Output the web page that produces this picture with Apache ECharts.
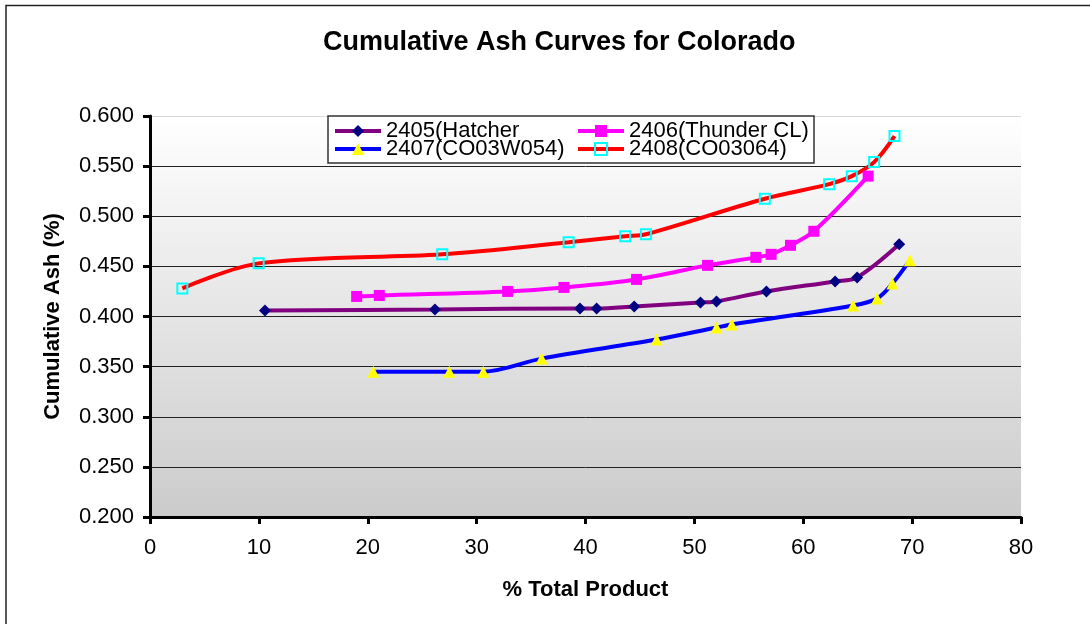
<!DOCTYPE html>
<html>
<head>
<meta charset="utf-8">
<script src="https://cdn.jsdelivr.net/npm/echarts@6/dist/echarts.min.js"></script>
<style>
  html, body { margin: 0; padding: 0; background: #fff; }
  #chart { width: 1090px; height: 624px; }
</style>
</head>
<body>
<div id="chart"></div>
<script>
// ---- Data ----
const seriesNames = ['2405(Hatcher', '2406(Thunder CL)', '2407(CO03W054)', '2408(CO03064)'];

const hatcherX = [10.56, 26.17, 39.49, 41.02, 44.47, 50.56, 52.03, 56.62, 62.93, 64.95, 68.81];
const hatcherY = [0.406, 0.407, 0.408, 0.408, 0.410, 0.414, 0.415, 0.425, 0.435, 0.439, 0.472];

const thunderX = [18.98, 21.06, 32.85, 38.02, 44.69, 51.21, 55.65, 57.05, 58.83, 60.97, 65.96];
const thunderY = [0.420, 0.421, 0.425, 0.429, 0.437, 0.451, 0.459, 0.462, 0.471, 0.485, 0.540];

const co03w054X = [20.51, 27.49, 30.61, 35.97, 46.53, 52.03, 53.44, 64.58, 66.78, 68.19, 69.79];
const co03w054Y = [0.345, 0.345, 0.345, 0.358, 0.377, 0.389, 0.392, 0.411, 0.418, 0.433, 0.456];

const co03064X = [2.97, 9.98, 26.84, 38.45, 43.65, 45.55, 56.47, 62.38, 64.46, 66.51, 68.38];
const co03064Y = [0.428, 0.453, 0.462, 0.474, 0.480, 0.482, 0.5175, 0.532, 0.540, 0.554, 0.580];

const xTicks = [0, 10, 20, 30, 40, 50, 60, 70, 80];
const yTicks = [0.200, 0.250, 0.300, 0.350, 0.400, 0.450, 0.500, 0.550, 0.600];

function pairs(xs, ys) { return xs.map((x, i) => [x, ys[i]]); }

const FONT = "'Liberation Sans', Arial, Helvetica, sans-serif";

const chart = echarts.init(document.getElementById('chart'), null, { renderer: 'canvas' });

const legendBase = {
  itemWidth: 46,
  itemHeight: 15,
  padding: 0,
  itemGap: 0,
  lineStyle: { width: 4 },
  textStyle: { fontSize: 22, fontFamily: FONT, color: '#000', lineHeight: 22 }
};

// split line colours: bottom..top; the top one is faint like the reference
const gridColors = yTicks.map((v, i) => i === yTicks.length - 1 ? '#d8d8d8' : '#222');

const option = {
  backgroundColor: '#fff',
  animation: false,
  title: {
    text: 'Cumulative Ash Curves for Colorado',
    left: 323,
    top: 29,
    padding: 0,
    textStyle: { fontSize: 27, fontWeight: 'bold', fontFamily: FONT, color: '#000', lineHeight: 28 }
  },
  graphic: [
    {
      type: 'rect', z: 100, silent: true,
      shape: { x: 6, y: 5.5, width: 3000, height: 3000 },
      style: { fill: 'none', stroke: '#222', lineWidth: 1.5 }
    },
    {
      type: 'rect', z: 3, silent: true,
      shape: { x: 328, y: 116, width: 486, height: 47 },
      style: { fill: '#fff', stroke: '#333', lineWidth: 1.5 }
    }
  ],
  legend: [
    Object.assign({ data: [seriesNames[0]], left: 333, top: 120 }, legendBase),
    Object.assign({ data: [seriesNames[1]], left: 576, top: 120 }, legendBase),
    Object.assign({ data: [seriesNames[2]], left: 333, top: 138 }, legendBase),
    Object.assign({ data: [seriesNames[3]], left: 576, top: 138 }, legendBase)
  ],
  grid: {
    left: 150, right: 69, top: 116, bottom: 107,
    show: true,
    borderWidth: 0,
    backgroundColor: new echarts.graphic.LinearGradient(0, 0, 0, 1, [
      { offset: 0, color: '#ffffff' },
      { offset: 1, color: '#cbcbcb' }
    ])
  },
  xAxis: {
    type: 'value',
    min: xTicks[0], max: xTicks[xTicks.length - 1], interval: 10,
    name: '% Total Product',
    nameLocation: 'middle',
    nameGap: 62,
    nameTextStyle: { fontSize: 22, fontWeight: 'bold', fontFamily: FONT, color: '#000' },
    axisLine: { show: true, onZero: false, lineStyle: { color: '#000', width: 3 } },
    axisTick: { show: true, length: 7, lineStyle: { color: '#000', width: 3 } },
    axisLabel: { fontSize: 22, fontFamily: FONT, color: '#000', margin: 20 },
    splitLine: { show: false }
  },
  yAxis: {
    type: 'value',
    min: yTicks[0], max: yTicks[yTicks.length - 1], interval: 0.05,
    name: 'Cumulative Ash (%)',
    nameLocation: 'middle',
    nameGap: 86,
    nameTextStyle: { fontSize: 22, fontWeight: 'bold', fontFamily: FONT, color: '#000' },
    axisLine: { show: true, lineStyle: { color: '#000', width: 3 } },
    axisTick: { show: true, length: 7, lineStyle: { color: '#000', width: 3 } },
    axisLabel: {
      fontSize: 22, fontFamily: FONT, color: '#000', margin: 16,
      formatter: v => v.toFixed(3)
    },
    splitLine: { show: true, lineStyle: { color: gridColors, width: 1 } }
  },
  series: [
    {
      name: seriesNames[0], type: 'line', smooth: 0.33,
      data: pairs(hatcherX, hatcherY),
      symbol: 'diamond', symbolSize: 12,
      lineStyle: { color: '#800080', width: 4 },
      itemStyle: { color: '#000080', borderWidth: 0 }
    },
    {
      name: seriesNames[1], type: 'line', smooth: 0.33,
      data: pairs(thunderX, thunderY),
      symbol: 'rect', symbolSize: 11,
      lineStyle: { color: '#ff00ff', width: 4 },
      itemStyle: { color: '#ff00ff', borderWidth: 0 }
    },
    {
      name: seriesNames[2], type: 'line', smooth: 0.33,
      data: pairs(co03w054X, co03w054Y),
      symbol: 'triangle', symbolSize: 12,
      lineStyle: { color: '#0000ff', width: 4 },
      itemStyle: { color: '#ffff00', borderWidth: 0 }
    },
    {
      name: seriesNames[3], type: 'line', smooth: 0.33,
      data: pairs(co03064X, co03064Y),
      symbol: 'rect', symbolSize: 10,
      lineStyle: { color: '#ff0000', width: 4 },
      itemStyle: { color: 'rgba(0,0,0,0)', borderColor: '#00ffff', borderWidth: 2 }
    }
  ]
};

chart.setOption(option);
</script>
</body>
</html>
